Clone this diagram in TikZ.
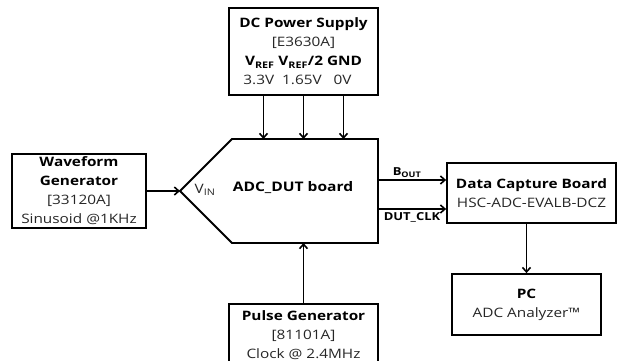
\documentclass[tikz,border=0pt]{standalone}
\usepackage{fontspec}
\setmainfont{Open Sans}[FakeStretch=1.18]
\usetikzlibrary{arrows.meta,positioning,calc}
\definecolor{txGray}{HTML}{262626}
\newcommand{\subln}[1]{{\color{txGray}#1}}

\begin{document}
\begin{tikzpicture}[x=1pt,y=-1pt,font=\fontsize{13}{19}\selectfont,
      box/.style={draw,line width=1.8pt,align=center,inner sep=0pt},
      lbl/.style={font=\bfseries\fontsize{11}{13}\selectfont,inner sep=2pt},
      arr/.style={-{Straight Barb[length=4.5pt,width=8pt]},line width=1.6pt}]
    \clip (0,0) rectangle (620,360);
    \node[box,minimum width=149pt,minimum height=87pt] (ps) at (303.5,51.5)
      {\textbf{DC Power Supply}\\\subln{[E3630A]}\\\textbf{V\textsubscript{REF} V\textsubscript{REF}/2 GND}\\\subln{3.3V\ \ 1.65V\ \ \ 0V\hspace*{12pt}}};
    \node[box,minimum width=134pt,minimum height=74pt] (wg) at (79,191)
      {\textbf{Waveform}\\\textbf{Generator}\\\subln{[33120A]}\\\subln{Sinusoid @1KHz}};
    \node[box,minimum width=169pt,minimum height=60pt] (dcb) at (531.5,193)
      {\textbf{Data Capture Board}\\\subln{HSC-ADC-EVALB-DCZ}};
    \node[box,minimum width=149pt,minimum height=61pt] (pc) at (526.5,304.5)
      {\textbf{PC}\\\subln{ADC Analyzer™}};
    \node[box,minimum width=149pt,minimum height=62pt] (pg) at (303.5,335)
      {\textbf{Pulse Generator}\\\subln{[81101A]}\\\subln{Clock @ 2.4MHz}};

    \node[minimum width=198pt,minimum height=104pt,inner sep=0pt,outer sep=0pt] (dut) at (279,191) {};
    \draw[line width=1.8pt] (dut.west) -- ([xshift=52pt]dut.north west) -- (dut.north east)
      -- (dut.south east) -- ([xshift=52pt]dut.south west) -- cycle;
    \node (vin) at (205,190) {\subln{V\textsubscript{IN}}};
    \node[font=\bfseries\fontsize{13.2}{16}\selectfont] (dutlbl) at (293,188) {ADC\_DUT board};

    \coordinate (bout) at ([yshift=13pt]dcb.west);
    \coordinate (clk) at ([yshift=-16pt]dcb.west);

    \foreach \dx in {-40,0,40}
      \draw[arr] ([xshift=\dx pt]ps.south) -- ([xshift=\dx pt]ps.south |- dut.north);
    \draw[arr] (wg.east) -- (dut.west);
    \draw[arr] (dut.east |- bout) -- node[lbl,above,xshift=-5pt] {B\textsubscript{OUT}} (bout);
    \draw[arr] (dut.east |- clk) -- node[lbl,below,yshift=-1pt] {DUT\_CLK} (clk);
    \draw[arr] (pg.north) -- (pg.north |- dut.south);
    \draw[arr] (pc.north |- dcb.south) -- (pc.north);
\end{tikzpicture}
\end{document}
